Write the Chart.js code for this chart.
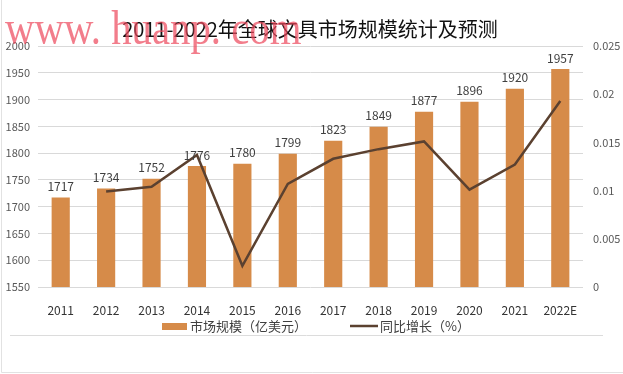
<!DOCTYPE html>
<html>
<head>
<meta charset="utf-8">
<script src="https://cdn.jsdelivr.net/npm/chart.js@4"></script>
<style>
  html, body { margin: 0; padding: 0; background: #fff; }
  #wrap { width: 623px; height: 374px; position: relative; }
</style>
</head>
<body>
<div id="wrap"><canvas id="marketChart" width="623" height="374"></canvas></div>
<script>
// chart data
const years = ['2011', '2012', '2013', '2014', '2015', '2016', '2017', '2018', '2019', '2020', '2021', '2022E'];
const marketSize = [1717, 1734, 1752, 1776, 1780, 1799, 1823, 1849, 1877, 1896, 1920, 1957];
const growthRate = [null, 0.0099, 0.0104, 0.0137, 0.0022, 0.0107, 0.0133, 0.0143, 0.0151, 0.0101, 0.0127, 0.0193];
const leftTicks = [1550, 1600, 1650, 1700, 1750, 1800, 1850, 1900, 1950, 2000];
const rightTicks = [0, 0.005, 0.01, 0.015, 0.02, 0.025];

const barColor = '#D68B49';
const lineColor = '#5B4130';
const cjkFont = '"Noto Sans CJK SC", "Noto Sans", sans-serif';

// value labels above bars, title, watermark, legend and frame
const decorPlugin = {
    id: 'decor',
    afterDatasetsDraw(chart) {
        const ctx = chart.ctx;
        const meta = chart.getDatasetMeta(0);
        ctx.save();
        ctx.font = '12px ' + cjkFont;
        ctx.fillStyle = '#404040';
        ctx.textAlign = 'center';
        ctx.textBaseline = 'bottom';
        meta.data.forEach((bar, i) => {
            ctx.fillText(String(marketSize[i]), bar.x, bar.y - 5);
        });
        ctx.restore();
    },
    afterDraw(chart) {
        const ctx = chart.ctx;
        ctx.save();

        // title
        ctx.font = '20px ' + cjkFont;
        ctx.fillStyle = '#111';
        ctx.textAlign = 'center';
        ctx.textBaseline = 'middle';
        ctx.fillText('2011-2022年全球文具市场规模统计及预测', 310, 29);

        // watermark
        ctx.save();
        ctx.translate(5, 44);
        ctx.scale(0.85, 1);
        ctx.font = '48px "Liberation Serif", "DejaVu Serif", serif';
        ctx.fillStyle = 'rgba(236, 70, 90, 0.7)';
        ctx.textAlign = 'left';
        ctx.textBaseline = 'alphabetic';
        ctx.fillText('www. huanp. com', 0, 0);
        ctx.restore();

        // legend
        const ly = 326;
        ctx.fillStyle = barColor;
        ctx.fillRect(162, ly - 3, 25, 7);
        ctx.strokeStyle = lineColor;
        ctx.lineWidth = 2.5;
        ctx.beginPath();
        ctx.moveTo(350, ly);
        ctx.lineTo(378, ly);
        ctx.stroke();
        ctx.font = '13px ' + cjkFont;
        ctx.fillStyle = '#404040';
        ctx.textAlign = 'left';
        ctx.textBaseline = 'middle';
        ctx.fillText('市场规模（亿美元）', 190, ly);
        ctx.fillText('同比增长（%）', 380, ly);

        // separator and frame
        ctx.strokeStyle = '#dcdcdc';
        ctx.lineWidth = 1;
        ctx.beginPath();
        ctx.moveTo(10, 335.5);
        ctx.lineTo(603, 335.5);
        ctx.stroke();
        ctx.strokeStyle = '#e2e2e2';
        ctx.beginPath();
        ctx.moveTo(1.5, 0);
        ctx.lineTo(1.5, 372.5);
        ctx.lineTo(623, 372.5);
        ctx.stroke();
        ctx.restore();
    }
};

const ctx = document.getElementById('marketChart').getContext('2d');
new Chart(ctx, {
    data: {
        labels: years,
        datasets: [{
            type: 'bar',
            label: '市场规模（亿美元）',
            data: marketSize,
            backgroundColor: barColor,
            barPercentage: 0.4,
            categoryPercentage: 1,
            yAxisID: 'y',
            order: 2
        }, {
            type: 'line',
            label: '同比增长（%）',
            data: growthRate,
            borderColor: lineColor,
            borderWidth: 2.5,
            pointRadius: 0,
            tension: 0,
            yAxisID: 'y1',
            order: 1
        }]
    },
    options: {
        responsive: false,
        animation: false,
        layout: { padding: { top: 46, left: 2, right: 0, bottom: 0 } },
        plugins: {
            legend: { display: false },
            title: { display: false },
            tooltip: { enabled: false }
        },
        scales: {
            x: {
                grid: { display: false },
                border: { display: false },
                ticks: {
                    color: '#333',
                    font: { size: 12, family: cjkFont },
                    padding: 8,
                    maxRotation: 0
                },
                afterFit(scale) { scale.height = 87; }
            },
            y: {
                position: 'left',
                min: 1550,
                max: 2000,
                afterBuildTicks(scale) { scale.ticks = leftTicks.map(v => ({ value: v })); },
                grid: { color: '#d9d9d9', drawTicks: false },
                border: { display: false },
                ticks: {
                    color: '#595959',
                    font: { size: 11, family: cjkFont },
                    padding: 8,
                    callback: v => String(v)
                },
                afterFit(scale) { scale.width = 36; }
            },
            y1: {
                position: 'right',
                min: 0,
                max: 0.025,
                afterBuildTicks(scale) { scale.ticks = rightTicks.map(v => ({ value: v })); },
                grid: { display: false, drawTicks: false },
                border: { display: false },
                ticks: {
                    color: '#595959',
                    font: { size: 11, family: cjkFont },
                    padding: 10,
                    callback: v => String(v)
                },
                afterFit(scale) { scale.width = 40; }
            }
        }
    },
    plugins: [decorPlugin]
});
</script>
</body>
</html>
